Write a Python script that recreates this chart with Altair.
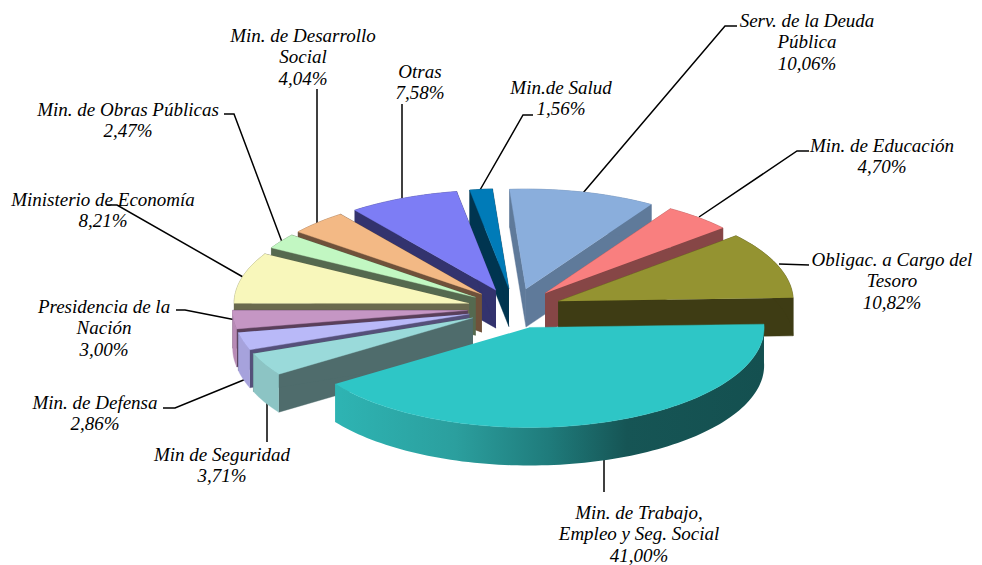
import math
import altair as alt
import pandas as pd

# --- chart values -----------------------------------------------------------
names = ["Serv. de la Deuda Pública", "Min. de Educación", "Obligac. a Cargo del Tesoro",
         "Min. de Trabajo, Empleo y Seg. Social", "Min de Seguridad", "Min. de Defensa",
         "Presidencia de la Nación", "Ministerio de Economía", "Min. de Obras Públicas",
         "Min. de Desarrollo Social", "Otras", "Min.de Salud"]
values = [10.06, 4.70, 10.82, 41.00, 3.71, 2.86, 3.00, 8.21, 2.47, 4.04, 7.58, 1.56]

# --- styles -----------------------------------------------------------------
top_colors = ["#8aaedc", "#f97f7f", "#949331", "#2ec6c6", "#9adada", "#b9b9f8",
              "#c596c4", "#f8f7bb", "#c2f7c2", "#f3b985", "#7d7df5", "#007bb8"]
side_colors = ["#5f7a9a", "#864646", "#3e3c14", "#155050", "#4f6c6c", "#55507a",
               "#5a3f5a", "#6a6a4e", "#55694f", "#6f513a", "#33336e", "#003550"]
arc_colors = ["#5f7a9a", "#864646", "#3e3c14", "#155050", "#8cc4c4", "#a6a2dc",
              "#b78ab5", "#6a6a4e", "#55694f", "#6f513a", "#33336e", "#003550"]
draw_order = [0, 1, 2, 11, 10, 9, 8, 7, 6, 5, 4]   # back to front; slice 3 is drawn last

# --- label layout: text lines, centre, first baseline -------------------------
label_lines = [["Serv. de la Deuda", "Pública", "10,06%"], ["Min. de Educación", "4,70%"],
               ["Obligac. a Cargo del", "Tesoro", "10,82%"],
               ["Min. de Trabajo,", "Empleo y Seg. Social", "41,00%"], ["Min de Seguridad", "3,71%"],
               ["Min. de Defensa", "2,86%"], ["Presidencia de la", "Nación", "3,00%"],
               ["Ministerio de Economía", "8,21%"], ["Min. de Obras Públicas", "2,47%"],
               ["Min. de Desarrollo", "Social", "4,04%"], ["Otras", "7,58%"], ["Min.de Salud", "1,56%"]]
label_x = [807, 882, 892, 639, 222, 95, 104, 103, 128, 303, 420, 561]
label_y = [26.5, 151.5, 265.5, 518.5, 460.5, 408.5, 312.5, 205.5, 115.5, 41.5, 77.5, 93.5]
leaders = [[(583, 193), (725, 26), (737, 26)], [(699, 217), (797, 151), (809, 151)],
           [(779, 264), (809, 265)], [(604, 460), (604, 492)], [(267, 402), (267, 442)],
           [(246, 379), (175, 408), (163, 408)], [(236, 320), (185, 310), (176, 310)],
           [(243, 277), (117, 205), (107, 205)], [(282, 242), (234, 114), (224, 114)],
           [(317, 223), (317, 89)], [(402, 198), (402, 104)], [(480, 190), (523, 115), (533, 115)]]

CX, CY, RX, RY, EXPLODE, DEPTH, START = 514.5, 308.5, 235, 100, 0.2, 38, -4.0
LINE_GAP = 21.8


def pt(t, r=1.0, ox=0.0, oy=0.0):
    a = math.radians(t)
    return (CX + ox + r * RX * math.sin(a), CY + oy - r * RY * math.cos(a))


total = sum(values)
spans, cur = [], START
for v in values:
    spans.append((cur, cur + v / total * 360))
    cur += v / total * 360

rows, pid = [], 0


def add(points, fill):
    global pid
    pid += 1
    for k, (x, y) in enumerate(points):
        rows.append({"poly": pid, "k": k, "x": x, "y": y, "fill": fill})


def slice_geom(i):
    t0, t1 = spans[i]
    mid = math.radians((t0 + t1) / 2)
    ox, oy = EXPLODE * RX * math.sin(mid), -EXPLODE * RY * math.cos(mid)
    n = max(4, int((t1 - t0) / 1.5))
    arc = [pt(t0 + (t1 - t0) * j / n, 1.0, ox, oy) for j in range(n + 1)]
    return (CX + ox, CY + oy), arc


def shift(pts):
    return [(x, y + DEPTH) for x, y in pts]


def add_walls(i):
    apex, arc = slice_geom(i)
    add([apex, arc[0], *shift([arc[0], apex])], side_colors[i])
    add([apex, arc[-1], *shift([arc[-1], apex])], side_colors[i])
    add(arc + shift(arc)[::-1], arc_colors[i])


for i in draw_order:
    add_walls(i)
    apex, arc = slice_geom(i)
    add([apex] + arc, top_colors[i])

base = pd.DataFrame(rows)

apex3, arc3 = slice_geom(3)
wall3 = pd.DataFrame([{"poly": 1, "k": k, "x": x, "y": y}
                      for k, (x, y) in enumerate(arc3[::-1] + shift(arc3))])
top3 = pd.DataFrame([{"poly": 1, "k": k, "x": x, "y": y}
                     for k, (x, y) in enumerate([apex3] + arc3)])

leader_df = pd.DataFrame([{"id": i, "k": k, "x": x, "y": y}
                          for i, l in enumerate(leaders) for k, (x, y) in enumerate(l)])
text_df = pd.DataFrame([{"x": label_x[i], "y": label_y[i] + j * LINE_GAP, "t": s}
                        for i, lines in enumerate(label_lines) for j, s in enumerate(lines)])

X = alt.X("x:Q", axis=None, scale=alt.Scale(domain=[8, 974], nice=False, zero=False))
Y = alt.Y("y:Q", axis=None, scale=alt.Scale(domain=[565, 8], nice=False, zero=False))

polys = alt.Chart(base).mark_line(strokeWidth=0.4, filled=True, interpolate="linear").encode(
    x=X, y=Y, order="k:Q", detail="poly:N",
    fill=alt.Fill("fill:N", scale=None, legend=None),
    stroke=alt.Stroke("fill:N", scale=None, legend=None))

grad = alt.Gradient(gradient="linear", x1=0, y1=0, x2=1, y2=0, stops=[
    alt.GradientStop(color="#2eb4b3", offset=0), alt.GradientStop(color="#2b9f9e", offset=0.28),
    alt.GradientStop(color="#1f7b7b", offset=0.5), alt.GradientStop(color="#165555", offset=0.68),
    alt.GradientStop(color="#145050", offset=1)])
wall = alt.Chart(wall3).mark_line(fill=grad, stroke=None, filled=True).encode(
    x=X, y=Y, order="k:Q", detail="poly:N")
top = alt.Chart(top3).mark_line(fill=top_colors[3], stroke=top_colors[3], strokeWidth=0.4, filled=True).encode(
    x=X, y=Y, order="k:Q", detail="poly:N")

lead = alt.Chart(leader_df).mark_line(color="black", strokeWidth=1.5).encode(
    x=X, y=Y, order="k:Q", detail="id:N")
text = alt.Chart(text_df).mark_text(font="Liberation Serif", fontStyle="italic", fontSize=19,
                                    align="center", baseline="alphabetic", color="black").encode(
    x=X, y=Y, text="t:N")

chart = alt.layer(lead, polys, wall, top, text).properties(
    width=966, height=557, padding=0, background="white",
    autosize=alt.AutoSizeParams(type="none")
).configure_view(stroke=None)

chart.save("out.html", embed_options={"renderer": "svg", "actions": False})
